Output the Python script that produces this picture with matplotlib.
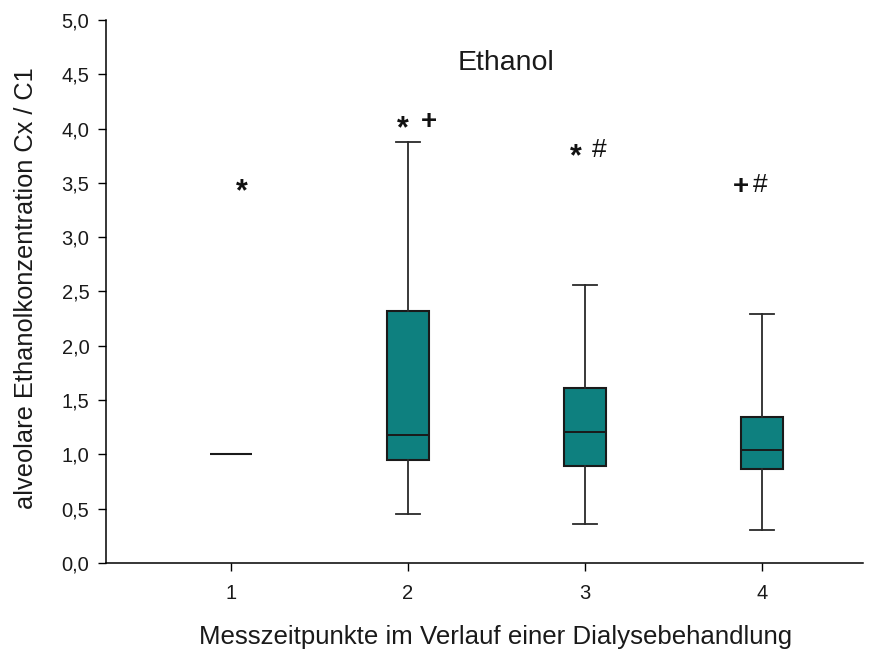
import matplotlib
matplotlib.use("Agg")
import matplotlib.pyplot as plt
from matplotlib.ticker import FuncFormatter

plt.rcParams["font.family"] = ["Liberation Sans", "DejaVu Sans"]

# ── Daten ─────────────────────────────────────────────
zeitpunkte = [1, 2, 3, 4]
whisker_lo = [1.00, 0.45, 0.36, 0.30]
q1         = [1.00, 0.945, 0.895, 0.868]
median     = [1.00, 1.18, 1.21, 1.045]
q3         = [1.00, 2.32, 1.61, 1.34]
whisker_hi = [1.00, 3.88, 2.56, 2.29]

# Signifikanzzeichen: (x, y, text)
marker_x   = [1.06, 1.97, 2.12, 2.95, 3.08, 3.88, 3.99]
marker_y   = [3.41, 3.99, 4.06, 3.74, 3.80, 3.46, 3.48]
marker_txt = ["*", "*", "+", "*", "#", "+", "#"]

FARBE = "#0e807f"

fig = plt.figure(figsize=(8.77, 6.53), dpi=100)
ax = fig.add_axes([0.1209, 0.1378, 0.863, 0.8316])

stats = []
for i in range(len(zeitpunkte)):
    stats.append(dict(med=median[i], q1=q1[i], q3=q3[i],
                      whislo=whisker_lo[i], whishi=whisker_hi[i], fliers=[]))

ax.bxp(stats, positions=zeitpunkte, widths=0.24, patch_artist=True,
       showfliers=False, showcaps=True,
       boxprops=dict(facecolor=FARBE, edgecolor="#1a1a1a", linewidth=1.5),
       medianprops=dict(color="#1a1a1a", linewidth=1.4),
       whiskerprops=dict(color="#2a2a2a", linewidth=1.3),
       capprops=dict(color="#2a2a2a", linewidth=1.3),
       capwidths=0.14)

for x, y, t in zip(marker_x, marker_y, marker_txt):
    if t == "*":
        ax.text(x, y, t, ha="center", va="center", fontsize=22,
                fontweight="bold", color="#111111")
    elif t == "+":
        ax.text(x, y, t, ha="center", va="center", fontsize=20,
                fontweight="bold", color="#111111")
    else:
        ax.text(x, y, t, ha="center", va="center", fontsize=19, color="#111111")

ax.text(2.554, 4.54, "Ethanol", ha="center", va="baseline", fontsize=20.5, color="#1a1a1a")

ax.set_xlim(0.294, 4.57)
ax.set_ylim(0, 5)
ax.set_xticks(zeitpunkte)
ax.set_yticks([0, 0.5, 1, 1.5, 2, 2.5, 3, 3.5, 4, 4.5, 5])
ax.yaxis.set_major_formatter(FuncFormatter(lambda v, p: f"{v:.1f}".replace(".", ",")))
ax.tick_params(axis="both", direction="out", length=6, labelsize=14.5, width=1,
               labelcolor="#1a1a1a")
ax.tick_params(axis="x", pad=9)
ax.tick_params(axis="y", pad=6)
for s in ["top", "right"]:
    ax.spines[s].set_visible(False)
for s in ["left", "bottom"]:
    ax.spines[s].set_linewidth(1.1)

ax.set_xlabel("Messzeitpunkte im Verlauf einer Dialysebehandlung", fontsize=18.6,
              labelpad=16, color="#1a1a1a")
ax.xaxis.label.set_x(0.515)
ax.set_ylabel("alveolare Ethanolkonzentration Cx / C1", fontsize=18.3,
              labelpad=17, color="#1a1a1a")
ax.yaxis.label.set_y(0.5055)

fig.savefig("out.png", dpi=100)
